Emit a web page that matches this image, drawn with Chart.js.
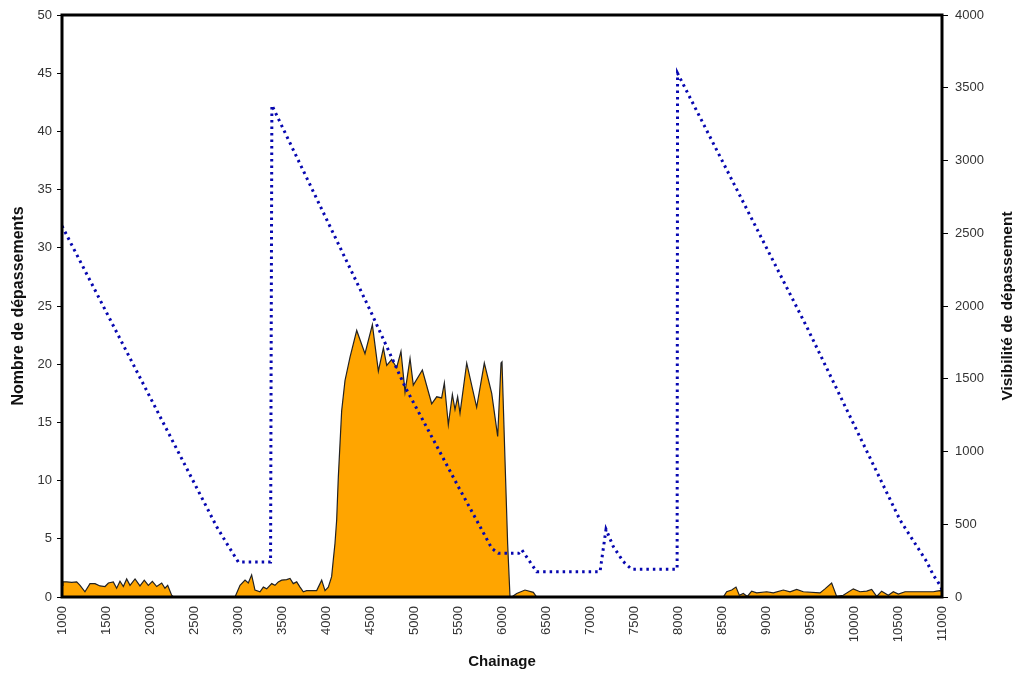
<!DOCTYPE html>
<html>
<head>
<meta charset="utf-8">
<script src="https://cdn.jsdelivr.net/npm/chart.js@4.4.0/dist/chart.umd.min.js"></script>
<style>
  html, body { margin: 0; padding: 0; background: #fff; }
  #wrap { width: 1017px; height: 673px; }
</style>
</head>
<body>
<div id="wrap"><canvas id="chainageChart" width="1017" height="673"></canvas></div>
<script>
// Nombre de dépassements (left axis) by chainage
const countChainage = [
    1000, 1010, 1053, 1110, 1167, 1205, 1261, 1318, 1375, 1432, 1489, 1527, 1583, 1621, 1659, 1697,
    1735, 1773, 1830, 1886, 1935, 1981, 2027, 2076, 2133, 2170, 2201, 2246, 2265,
    2966, 3023, 3080, 3117, 3155, 3193, 3250, 3288, 3326, 3383, 3420, 3458, 3496, 3553, 3591, 3628,
    3667, 3705, 3742, 3780, 3894, 3951, 3989, 4026, 4064, 4083, 4102, 4121, 4140, 4178, 4216, 4273,
    4349, 4443, 4527, 4595, 4652, 4690, 4746, 4803, 4852, 4898, 4955, 4992, 5095, 5201, 5258, 5314,
    5345, 5390, 5436, 5466, 5496, 5523, 5599, 5712, 5799, 5883, 5951, 5989, 6000, 6034, 6064, 6091,
    6110, 6167, 6261, 6356, 6394,
    8515, 8553, 8610, 8659, 8697, 8742, 8788, 8837, 8894, 9008, 9083, 9197, 9273, 9349, 9424, 9614,
    9670, 9746, 9803, 9878, 9992, 10068, 10144, 10201, 10258, 10314, 10390, 10447, 10504, 10580,
    10901, 10939, 10977, 11000
];
const countValues = [
    1.0, 1.3, 1.3, 1.25, 1.3, 1.0, 0.45, 1.15, 1.15, 0.95, 0.9, 1.2, 1.3, 0.75, 1.35, 0.9,
    1.55, 1.0, 1.55, 0.95, 1.45, 1.0, 1.35, 0.9, 1.2, 0.75, 1.0, 0.15, 0,
    0, 1.0, 1.45, 1.2, 1.9, 0.6, 0.45, 0.85, 0.7, 1.15, 1.0, 1.3, 1.45, 1.5, 1.6, 1.15,
    1.3, 0.85, 0.45, 0.55, 0.55, 1.45, 0.55, 0.85, 1.75, 3.2, 4.6, 6.6, 10.3, 16, 18.6, 20.6,
    22.9, 20.9, 23.4, 19.4, 21.4, 19.9, 20.4, 19.7, 21.1, 17.6, 20.5, 18.2, 19.5, 16.6, 17.2, 17.1,
    18.4, 14.8, 17.4, 16.1, 17.2, 15.8, 20.1, 16.3, 20.1, 17.5, 13.8, 20.1, 20.2, 11.8, 4.6, 0,
    0, 0.3, 0.6, 0.4, 0,
    0, 0.45, 0.6, 0.85, 0.15, 0.3, 0.05, 0.5, 0.35, 0.45, 0.35, 0.6, 0.45, 0.65, 0.45, 0.35,
    0.7, 1.2, 0.05, 0.15, 0.7, 0.45, 0.5, 0.65, 0.05, 0.5, 0.15, 0.45, 0.25, 0.45,
    0.45, 0.5, 0.55, 0.5
];

// Visibilité de dépassement (right axis) by chainage
const visChainage = [
    1000, 2758, 2871, 3004, 3370, 3385, 4500, 4898, 5201, 5504, 5731, 5883, 5958, 6190, 6224, 6394,
    7114, 7182, 7265, 7379, 7474, 7990, 7995, 9462, 10523, 10826, 10901, 10977, 11000
];
const visValues = [
    2550, 483, 369, 240, 240, 3380, 1973, 1445, 1102, 758, 506, 335, 300, 300, 325, 174,
    174, 465, 346, 243, 190, 190, 3600, 1858, 529, 243, 151, 82, 50
];

const xTitle = 'Chainage';
const leftTitle = 'Nombre de dépassements';
const rightTitle = 'Visibilité de dépassement';

const countPoints = countChainage.map((c, i) => ({ x: c, y: countValues[i] }));
const visPoints = visChainage.map((c, i) => ({ x: c, y: visValues[i] }));

Chart.defaults.font.family = '"Liberation Sans", Arial, sans-serif';
Chart.defaults.color = '#333';

// thick black frame round the plot area
const framePlugin = {
    id: 'frame',
    afterDatasetsDraw(chart) {
        const { ctx, chartArea: a } = chart;
        ctx.save();
        ctx.strokeStyle = '#000';
        ctx.lineWidth = 3;
        ctx.strokeRect(a.left, a.top, a.right - a.left, a.bottom - a.top);
        ctx.restore();
    }
};

// right axis title reads bottom to top, like the left one
const rightTitlePlugin = {
    id: 'rightTitle',
    afterDraw(chart) {
        const { ctx, chartArea: a } = chart;
        ctx.save();
        ctx.translate(1008, (a.top + a.bottom) / 2);
        ctx.rotate(-Math.PI / 2);
        ctx.font = 'bold 15.5px "Liberation Sans", Arial, sans-serif';
        ctx.fillStyle = '#111';
        ctx.textAlign = 'center';
        ctx.textBaseline = 'middle';
        ctx.fillText(rightTitle, 0, 0);
        ctx.restore();
    }
};

const ctx = document.getElementById('chainageChart');
new Chart(ctx, {
    type: 'line',
    data: {
        datasets: [
            {
                label: rightTitle,
                data: visPoints,
                yAxisID: 'y2',
                borderColor: '#0707b0',
                borderWidth: 3,
                borderDash: [2.5, 4],
                pointRadius: 0,
                fill: false,
                tension: 0,
                order: 0
            },
            {
                label: leftTitle,
                data: countPoints,
                yAxisID: 'y',
                borderColor: '#222',
                borderWidth: 1.2,
                backgroundColor: '#FFA500',
                pointRadius: 0,
                fill: 'origin',
                tension: 0,
                order: 1
            }
        ]
    },
    options: {
        responsive: false,
        animation: false,
        layout: { padding: { top: 15, left: 0, right: 0, bottom: 0 } },
        plugins: { legend: { display: false }, tooltip: { enabled: false } },
        scales: {
            x: {
                type: 'linear',
                min: 1000,
                max: 11000,
                afterFit: s => { s.height = 76; },
                grid: { display: false, drawTicks: false },
                border: { display: false },
                ticks: {
                    stepSize: 500,
                    autoSkip: false,
                    minRotation: 90,
                    maxRotation: 90,
                    padding: 9,
                    font: { size: 13 },
                    callback: v => String(v)
                },
                title: {
                    display: true,
                    text: xTitle,
                    color: '#111',
                    font: { size: 15, weight: 'bold' },
                    padding: { top: 0, bottom: 2 }
                }
            },
            y: {
                position: 'left',
                min: 0,
                max: 50,
                afterFit: s => { s.width = 62; },
                grid: { display: true, drawOnChartArea: false, drawTicks: true, tickLength: 5, color: '#000' },
                border: { display: false },
                ticks: { stepSize: 5, padding: 5, font: { size: 13 }, callback: v => String(v) },
                title: {
                    display: true,
                    text: leftTitle,
                    color: '#111',
                    font: { size: 16, weight: 'bold' },
                    padding: { top: 9, bottom: 0 }
                }
            },
            y2: {
                position: 'right',
                min: 0,
                max: 4000,
                afterFit: s => { s.width = 75; },
                grid: { display: true, drawOnChartArea: false, drawTicks: true, tickLength: 6, color: '#000' },
                border: { display: false },
                ticks: { stepSize: 500, padding: 7, font: { size: 13 }, callback: v => String(v) }
            }
        }
    },
    plugins: [framePlugin, rightTitlePlugin]
});
</script>
</body>
</html>
